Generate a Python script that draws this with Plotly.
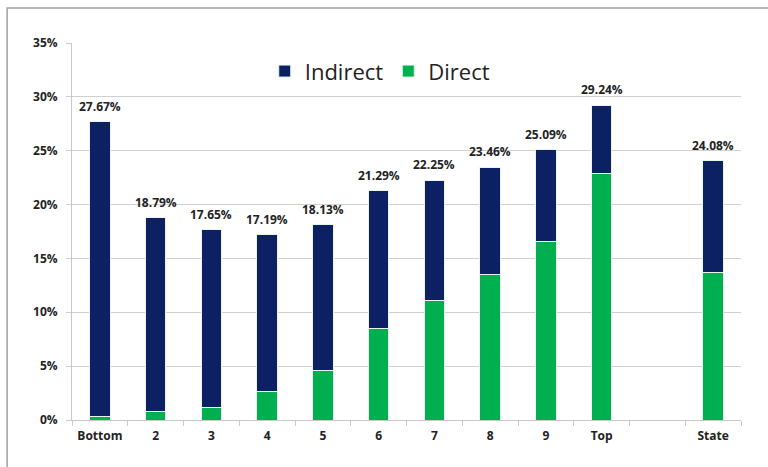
import plotly.graph_objects as go

categories = ["Bottom", "2", "3", "4", "5", "6", "7", "8", "9", "Top", " ", "State"]
totals = [27.67, 18.79, 17.65, 17.19, 18.13, 21.29, 22.25, 23.46, 25.09, 29.24, None, 24.08]
direct = [0.3, 0.75, 1.15, 2.65, 4.6, 8.5, 11.1, 13.5, 16.55, 22.9, None, 13.7]
indirect = [None if t is None else round(t - d, 2) for t, d in zip(totals, direct)]
labels = ["" if t is None else f"{t:.2f}%" for t in totals]

NAVY = "#0b2163"
GREEN = "#00b050"
FONT = "Open Sans"

fig = go.Figure()
fig.add_trace(go.Bar(x=categories, y=direct, name="Direct", marker=dict(color=GREEN, line=dict(color="#e8f5ec", width=1))))
fig.add_trace(go.Bar(x=categories, y=indirect, name="Indirect", marker=dict(color=NAVY, line=dict(color="#e8f5ec", width=1))))

annotations = []
for i, (t, lab) in enumerate(zip(totals, labels)):
    if t is None:
        continue
    # category axis: x given as category index
    annotations.append(dict(x=i, y=t, xref="x", yref="y", text=lab, showarrow=False,
                            yanchor="bottom", yshift=5,
                            font=dict(family=FONT, size=12, color="#222222", weight="bold")))

fig.update_layout(
    width=768, height=467,
    margin=dict(l=72, r=27, t=43, b=47),
    barmode="stack", bargap=0.63,
    paper_bgcolor="white", plot_bgcolor="white",
    font=dict(family=FONT, color="#222222"),
    legend=dict(orientation="h", x=0.46, xanchor="center", y=0.925, yanchor="middle",
                traceorder="reversed", font=dict(size=22, family=FONT, color="#222222"),
                bgcolor="rgba(255,255,255,0)", itemwidth=30),
    xaxis=dict(type="category", categoryorder="array", categoryarray=categories,
               showline=True, linecolor="#c8c8c8", linewidth=1,
               ticks="outside", tickson="boundaries", ticklen=5, tickcolor="#c8c8c8",
               ticklabelstandoff=5,
               tickfont=dict(family=FONT, size=12, color="#222222", weight="bold"),
               showgrid=False),
    yaxis=dict(range=[0, 35], dtick=5, ticksuffix="%", showgrid=True, gridcolor="#d0d0d0", gridwidth=1,
               showline=True, linecolor="#c8c8c8", ticks="outside", ticklen=5, tickcolor="#d0d0d0",
               ticklabelstandoff=6,
               tickfont=dict(family=FONT, size=12, color="#222222", weight="bold"),
               zeroline=False),
    annotations=annotations,
    shapes=[dict(type="rect", xref="paper", yref="paper", x0=-0.097, x1=1.2, y0=-0.3, y1=1.093,
                 line=dict(color="#a0a0a0", width=1.5), fillcolor="rgba(0,0,0,0)", layer="below")],
)

fig.write_html("out.html")
